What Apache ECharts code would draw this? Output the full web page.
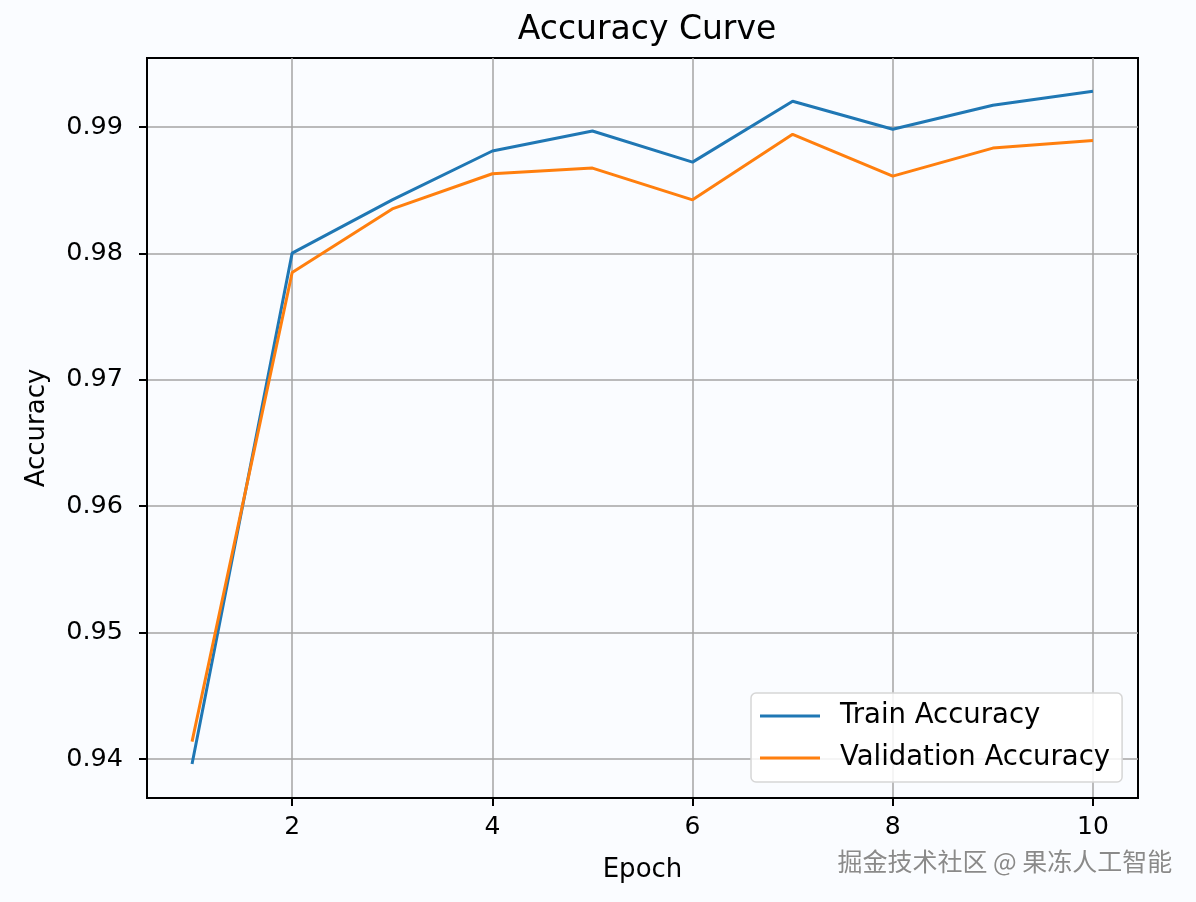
<!DOCTYPE html>
<html>
<head>
<meta charset="utf-8">
<title>Accuracy Curve</title>
<script src="https://cdn.jsdelivr.net/npm/echarts@6/dist/echarts.min.js"></script>
<style>
  html, body { margin: 0; padding: 0; background: #fafcff; }
  #chart { width: 1196px; height: 902px; }
</style>
</head>
<body>
<div id="chart"></div>
<script>
// values
const epochs = [1, 2, 3, 4, 5, 6, 7, 8, 9, 10]
const trainAcc = [0.9396, 0.98002, 0.98424, 0.9881, 0.98968, 0.98722, 0.99204, 0.98982, 0.99172, 0.99283]
const valAcc = [0.94137, 0.97849, 0.98352, 0.9863, 0.98675, 0.98424, 0.98942, 0.98611, 0.98833, 0.98894]
const xTicks = [2, 4, 6, 8, 10]
const yTicks = [0.94, 0.95, 0.96, 0.97, 0.98, 0.99]

const font = 'DejaVu Sans'

let myEcharts = echarts.init(document.getElementById('chart'))

let option = {
  backgroundColor: '#fafcff',
  animation: false,
  title: {
    text: 'Accuracy Curve',
    left: 642,
    textAlign: 'center',
    top: 9,
    textStyle: { fontFamily: font, fontSize: 33, fontWeight: 'normal', color: '#000' }
  },
  grid: {
    left: 147,
    right: 58,
    top: 58,
    bottom: 104,
    containLabel: false,
    show: true,
    borderColor: '#000',
    borderWidth: 2,
    backgroundColor: 'transparent'
  },
  legend: {
    orient: 'vertical',
    left: 751,
    top: 693,
    padding: [8, 12, 9, 9],
    itemGap: 12,
    itemWidth: 60,
    itemHeight: 3,
    backgroundColor: 'rgba(255,255,255,0.85)',
    borderColor: '#d6d6d6',
    borderWidth: 1.5,
    borderRadius: 5,
    textStyle: { fontFamily: font, fontSize: 27.5, color: '#000', lineHeight: 30, padding: [0, 0, 0, 15] },
    data: [
      { name: 'Train Accuracy', icon: 'rect' },
      { name: 'Validation Accuracy', icon: 'rect' }
    ]
  },
  xAxis: {
    type: 'value',
    min: 0.55,
    max: 10.45,
    name: 'Epoch',
    nameLocation: 'middle',
    nameGap: 59,
    nameTextStyle: { fontFamily: font, fontSize: 26, color: '#000' },
    axisLine: { lineStyle: { color: '#000', width: 2 } },
    axisTick: { show: true, length: 8, lineStyle: { color: '#000', width: 2 }, customValues: xTicks },
    axisLabel: { fontFamily: font, fontSize: 25, color: '#000', margin: 17, customValues: xTicks },
    splitLine: { show: true, lineStyle: { color: '#a4a4a4', width: 1.5 } }
  },
  yAxis: {
    type: 'value',
    min: 0.93691,
    max: 0.99546,
    name: 'Accuracy',
    nameLocation: 'middle',
    nameGap: 97,
    nameTextStyle: { fontFamily: font, fontSize: 26, color: '#000' },
    axisLine: { show: true, lineStyle: { color: '#000', width: 2 } },
    axisTick: { show: true, length: 8, lineStyle: { color: '#000', width: 2 }, customValues: yTicks },
    axisLabel: {
      fontFamily: font, fontSize: 25.5, color: '#000', margin: 24, customValues: yTicks,
      formatter: function (value) {
        return value.toFixed(2)
      }
    },
    splitLine: { show: true, lineStyle: { color: '#a4a4a4', width: 1.5 } }
  },
  series: [
    {
      name: 'Train Accuracy',
      type: 'line',
      symbol: 'none',
      color: '#1f77b4',
      lineStyle: { width: 3, color: '#1f77b4' },
      data: epochs.map((e, i) => [e, trainAcc[i]])
    },
    {
      name: 'Validation Accuracy',
      type: 'line',
      symbol: 'none',
      color: '#ff7f0e',
      lineStyle: { width: 3, color: '#ff7f0e' },
      data: epochs.map((e, i) => [e, valAcc[i]])
    }
  ],
  graphic: [
    {
      type: 'text',
      left: 837,
      top: 848,
      style: {
        text: '掘金技术社区 @ 果冻人工智能',
        fontFamily: 'Noto Sans CJK SC',
        fontSize: 25,
        fill: '#8a8a8a',
        stroke: '#ffffff',
        lineWidth: 1
      }
    }
  ]
}

myEcharts.setOption(option)
</script>
</body>
</html>
